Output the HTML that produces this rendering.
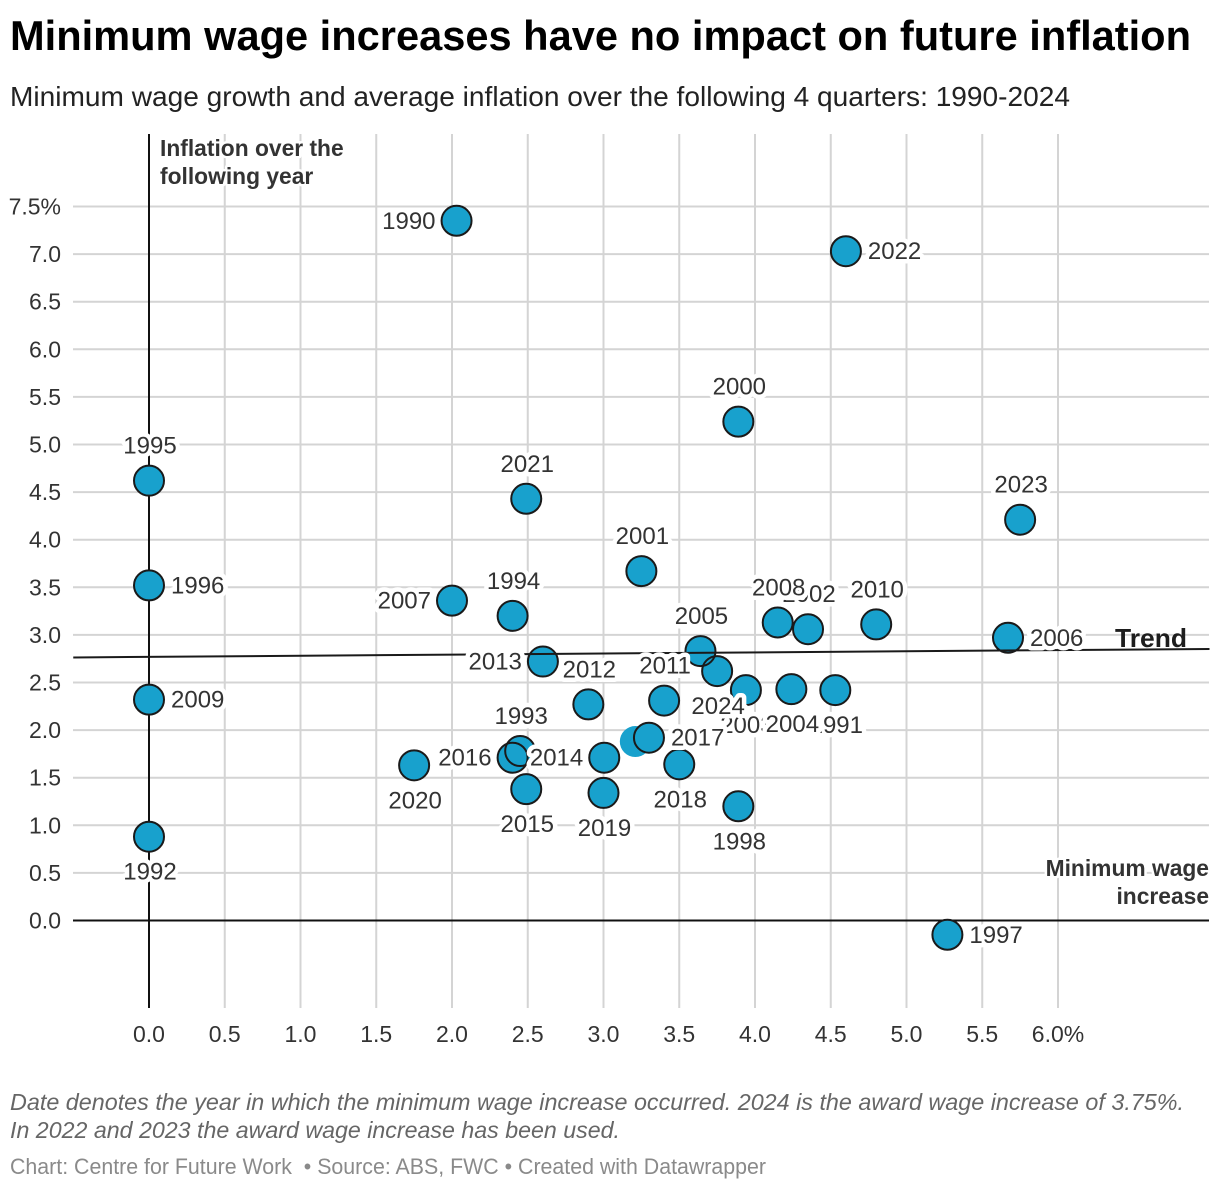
<!DOCTYPE html>
<html lang="en">
<head>
<meta charset="utf-8">
<title>Minimum wage increases have no impact on future inflation</title>
<style>
html,body{margin:0;padding:0;background:#fff;width:1220px;height:1190px;overflow:hidden}
svg{display:block;font-family:"Liberation Sans",sans-serif}
.lbl{font-size:24px;fill:#333;stroke:#fff;stroke-width:9px;stroke-linejoin:round;paint-order:stroke}
.tick{font-size:23px;fill:#333}
.ann{font-size:22.8px;font-weight:bold;fill:#333;stroke:#fff;stroke-width:5px;stroke-linejoin:round;paint-order:stroke}
</style>
</head>
<body>
<svg id="chart" width="1220" height="1190" viewBox="0 0 1220 1190" xmlns="http://www.w3.org/2000/svg">
  <text x="10" y="50" font-size="42" font-weight="bold" fill="#000" textLength="1181" lengthAdjust="spacingAndGlyphs">Minimum wage increases have no impact on future inflation</text>
  <text x="10" y="106" font-size="28" fill="#222" textLength="1060" lengthAdjust="spacingAndGlyphs">Minimum wage growth and average inflation over the following 4 quarters: 1990-2024</text>
  <g id="grid"></g>
  <g id="ticks"></g>
  <g id="zero"></g>
  <g id="fills"></g>
  <g id="outlines"></g>
  <g id="trend"></g>
  <g id="labels"></g>
  <text class="ann" x="160" y="156">Inflation over the</text>
  <text class="ann" x="160" y="184">following year</text>
  <text class="ann" x="1209" y="876" text-anchor="end">Minimum wage</text>
  <text class="ann" x="1209" y="904" text-anchor="end">increase</text>
  <text x="1115" y="647" font-size="26" font-weight="bold" fill="#1d1d1d" textLength="72" lengthAdjust="spacingAndGlyphs">Trend</text>
  <text x="10" y="1110" font-size="23.5" font-style="italic" fill="#666" textLength="1174" lengthAdjust="spacingAndGlyphs">Date denotes the year in which the minimum wage increase occurred. 2024 is the award wage increase of 3.75%.</text>
  <text x="10" y="1138" font-size="23.5" font-style="italic" fill="#666" textLength="610" lengthAdjust="spacingAndGlyphs">In 2022 and 2023 the award wage increase has been used.</text>
  <text x="10" y="1174" font-size="22" fill="#8a8a8a" textLength="756" lengthAdjust="spacingAndGlyphs">Chart: Centre for Future Work&#160; • Source: ABS, FWC • Created with Datawrapper</text>
</svg>
<script>
var years = [1990,1991,1992,1993,1994,1995,1996,1997,1998,1999,2000,2001,2002,2003,2004,2005,2006,2007,2008,2009,2010,2011,2012,2013,2014,2015,2016,2017,2018,2019,2020,2021,2022,2023,2024];
var wageGrowth = [2.03,4.53,0,2.45,2.4,0,0,5.27,3.89,3.21,3.89,3.25,4.35,3.94,4.24,3.64,5.67,2.0,4.15,0,4.8,3.4,2.9,2.6,3.005,2.49,2.4,3.3,3.5,3.0,1.75,2.49,4.6,5.75,3.75];
var inflation = [7.35,2.42,0.88,1.78,3.2,4.62,3.52,-0.15,1.2,1.88,5.24,3.67,3.06,2.42,2.43,2.83,2.97,3.36,3.13,2.32,3.11,2.31,2.27,2.72,1.71,1.38,1.71,1.92,1.64,1.34,1.63,4.43,7.03,4.21,2.62];
var labelSide = ['left','bottom','bottom','top','top','top','right','right','bottom','none','top','top','top','bottom','bottom','top','right','left','top','right','top','top','top','left','left','bottom','left','right','bottom','bottom','bottom','top','right','top','bottom'];
var xTicks = [0,0.5,1,1.5,2,2.5,3,3.5,4,4.5,5,5.5,6];
var xTickLabels = ['0.0','0.5','1.0','1.5','2.0','2.5','3.0','3.5','4.0','4.5','5.0','5.5','6.0%'];
var yTicks = [0,0.5,1,1.5,2,2.5,3,3.5,4,4.5,5,5.5,6,6.5,7,7.5];
var yTickLabels = ['0.0','0.5','1.0','1.5','2.0','2.5','3.0','3.5','4.0','4.5','5.0','5.5','6.0','6.5','7.0','7.5%'];
var trendX = [-0.5,7];
var trendY = [2.763,2.852];

function xScale(v){return 149+v*151.5;}
function yScale(v){return 920.5-v*95.2;}
var NS='http://www.w3.org/2000/svg';
function make(tag,parent,attrs){
  var el=document.createElementNS(NS,tag);
  for(var k in attrs){el.setAttribute(k,attrs[k]);}
  parent.appendChild(el);
  return el;
}
var grid=document.getElementById('grid'),ticks=document.getElementById('ticks'),zero=document.getElementById('zero'),
    fills=document.getElementById('fills'),outlines=document.getElementById('outlines'),
    trendG=document.getElementById('trend'),labels=document.getElementById('labels');

yTicks.forEach(function(v,i){
  var y=yScale(v);
  if(v!==0){
    var l=make('line',grid,{x1:73,x2:1209,y1:y,y2:y,stroke:'#d4d4d4','stroke-width':2});
    
    
  }
  var t=make('text',ticks,{x:61,y:y+8,'text-anchor':'end','class':'tick'});
  
  
  t.textContent=yTickLabels[i];
});
xTicks.forEach(function(v,i){
  var x=xScale(v);
  if(v!==0){
    var l=make('line',grid,{x1:x,x2:x,y1:134,y2:1008,stroke:'#d4d4d4','stroke-width':2});
    
    
  }
  var t=make('text',ticks,{x:x,y:1042,'text-anchor':'middle','class':'tick'});
  
  
  t.textContent=xTickLabels[i];
});

var zx=make('line',zero,{x1:73,x2:1209,y1:yScale(0),y2:yScale(0),stroke:'#111','stroke-width':2});


var zy=make('line',zero,{x1:xScale(0),x2:xScale(0),y1:134,y2:1008,stroke:'#111','stroke-width':2});



years.forEach(function(yr,i){
  var cx=xScale(wageGrowth[i]),cy=yScale(inflation[i]);
  var c=make('circle',fills,{cx:cx,cy:cy,r:15.5,fill:'#18a1cd'});
  
  
  if(labelSide[i]!=='none'){
    var o=make('circle',outlines,{cx:cx,cy:cy,r:15,fill:'none',stroke:'#1a1a1a','stroke-width':2});
    
    
  }
});

var tl=make('line',trendG,{x1:xScale(trendX[0]),y1:yScale(trendY[0]),x2:xScale(trendX[1]),y2:yScale(trendY[1]),stroke:'#1a1a1a','stroke-width':2});



years.forEach(function(yr,i){
  var side=labelSide[i];
  if(side==='none'){return;}
  var cx=xScale(wageGrowth[i]),cy=yScale(inflation[i]),x=cx,y=cy+8,anchor='middle';
  if(side==='left'){x=cx-21;anchor='end';}
  if(side==='right'){x=cx+22;anchor='start';}
  if(side==='top'){x=cx+1;y=cy-35+8;}
  if(side==='bottom'){x=cx+1;y=cy+35+8;}
  var t=make('text',labels,{x:x,y:y,'text-anchor':anchor,'class':'lbl'});
  
  
  t.textContent=yr;
});
</script>
</body>
</html>
